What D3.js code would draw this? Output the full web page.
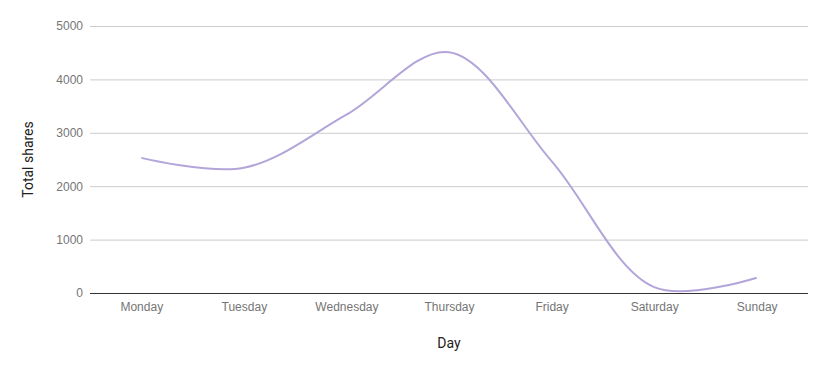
<!DOCTYPE html>
<html>
<head>
<meta charset="utf-8">
<script src="https://cdn.jsdelivr.net/npm/d3@7"></script>
<style>
  body { margin: 0; background: #fff; }
  svg { font-family: Roboto, sans-serif; display: block; }
</style>
</head>
<body>
<div id="chart"></div>
<script>
//Datos
const days = ['Monday', 'Tuesday', 'Wednesday', 'Thursday', 'Friday', 'Saturday', 'Sunday'];
const shares = [2530, 2345, 3340, 4510, 2470, 110, 287];
const yTicks = [0, 1000, 2000, 3000, 4000, 5000];

const LINE_COLOR = '#b3a5da';

let margin = {top: 26, right: 19, bottom: 78, left: 90},
    width = 827 - margin.left - margin.right,
    height = 371 - margin.top - margin.bottom;

let svg = d3.select('#chart')
    .append('svg')
      .attr('width', width + margin.left + margin.right)
      .attr('height', height + margin.top + margin.bottom)
    .append('g')
      .attr('transform', 'translate(' + margin.left + ',' + margin.top + ')');

//Eje X
let x = d3.scalePoint()
    .domain(days)
    .range([0, width])
    .padding(0.5);

//Eje Y
let y = d3.scaleLinear()
    .domain([0, 5000])
    .range([height, 0]);

//Rejilla
svg.append('g')
    .attr('class', 'yaxis')
    .call(d3.axisLeft(y).tickValues(yTicks).tickFormat(d3.format('d')).tickSize(-width).tickPadding(7))
    .call(function(g) {
        g.select('.domain').remove();
        g.selectAll('.tick line')
            .attr('stroke', function(d) { return d == 0 ? '#333' : '#ccc'; })
            .attr('stroke-width', 1);
        g.selectAll('.tick text')
            .attr('fill', '#757575')
            .style('font-size', '12px');
    });

svg.append('g')
    .attr('transform', 'translate(0,' + height + ')')
    .call(d3.axisBottom(x).tickSize(0).tickPadding(9))
    .call(function(g) {
        g.select('.domain').remove();
        g.selectAll('.tick text')
            .attr('fill', '#757575')
            .style('font-size', '12px');
    });

//Linea
let line = d3.line()
    .x(function(d, i) { return x(days[i]); })
    .y(function(d) { return y(d); })
    .curve(d3.curveCatmullRom.alpha(0.5));

svg.append('path')
    .datum(shares)
    .attr('fill', 'none')
    .attr('stroke', LINE_COLOR)
    .attr('stroke-width', 2)
    .attr('d', line);

//Titulos de ejes
svg.append('text')
    .attr('x', width / 2)
    .attr('y', height + 55)
    .attr('text-anchor', 'middle')
    .attr('fill', '#222')
    .style('font-size', '14px')
    .text('Day');

svg.append('text')
    .attr('transform', 'translate(' + (-57) + ',' + (height / 2 - 0) + ') rotate(-90)')
    .attr('text-anchor', 'middle')
    .attr('fill', '#222')
    .style('font-size', '14px')
    .text('Total shares');
</script>
</body>
</html>
